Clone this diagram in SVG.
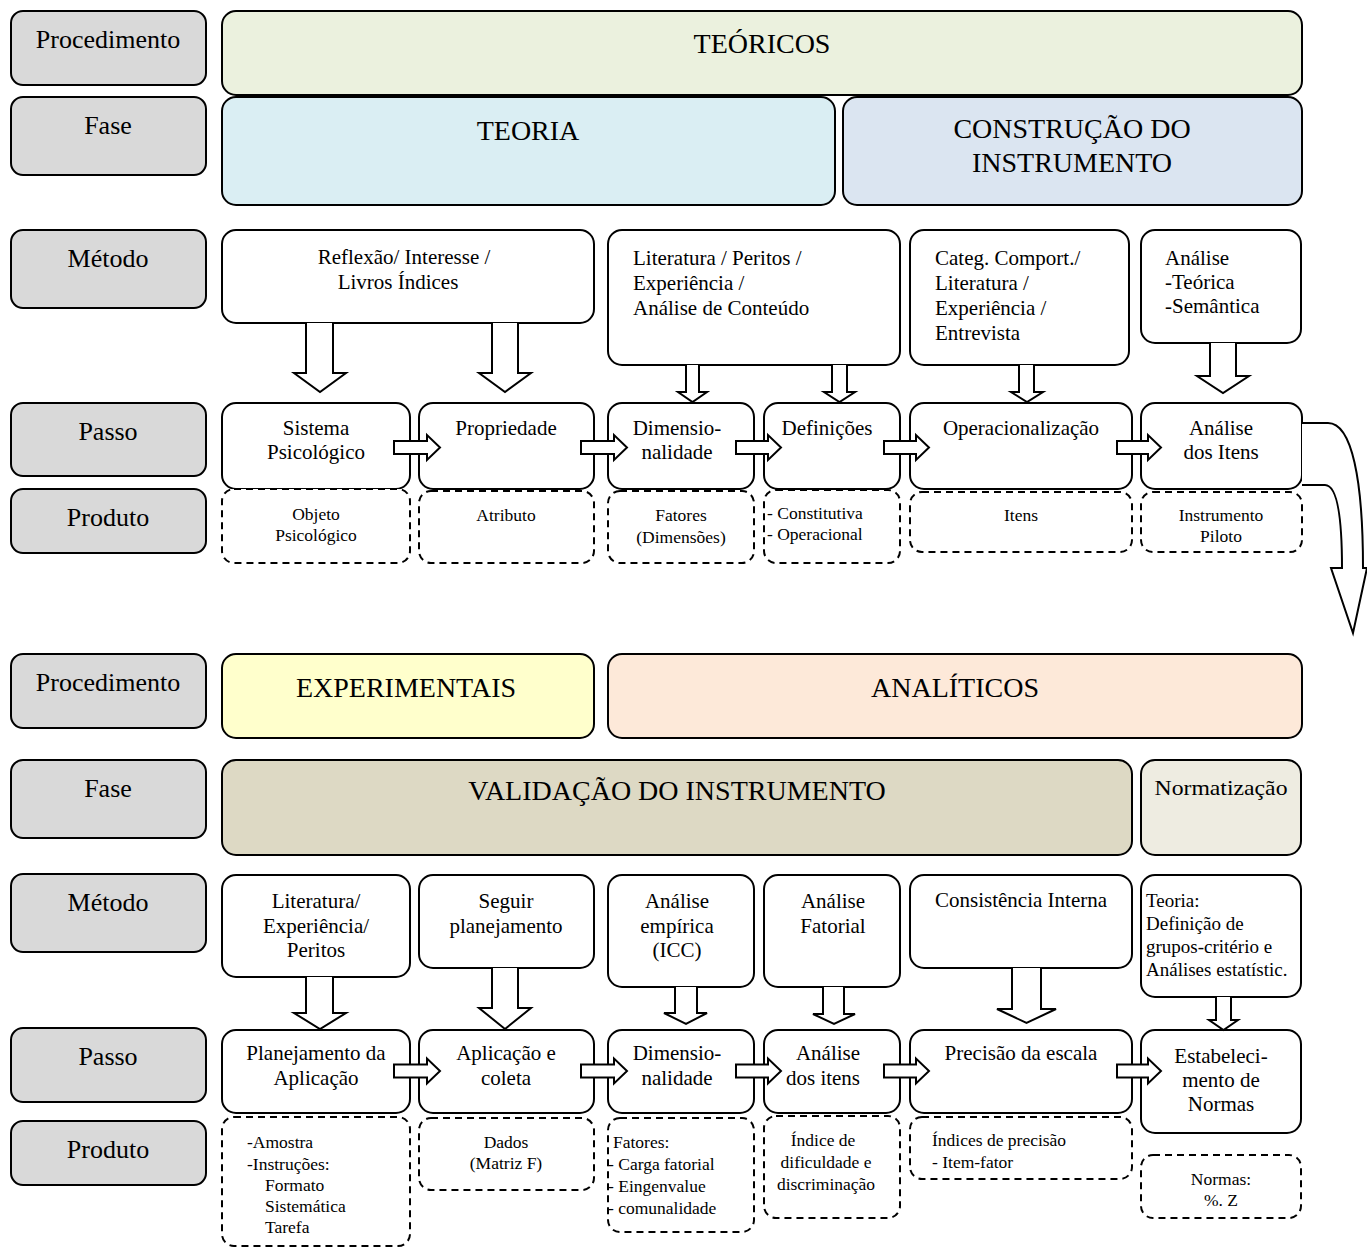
<svg xmlns="http://www.w3.org/2000/svg" width="1367" height="1247" viewBox="0 0 1367 1247">
<style>
text{font-family:"Liberation Serif","Times New Roman",serif;fill:#000}
.lbl rect{fill:#d9d9d9;stroke:#000;stroke-width:2}
.lbl text{font-size:26px;text-anchor:middle}
.box rect{fill:#fff;stroke:#000;stroke-width:2}
.dash rect{fill:#fff;stroke:#000;stroke-width:2;stroke-dasharray:7 5}
.big{font-size:28px;text-anchor:middle}
.t21{font-size:21px}
.t17{font-size:17.5px}
.c{text-anchor:middle}
.arr path{fill:#fff;stroke:#000;stroke-width:2;stroke-linejoin:miter}
</style>
<rect width="1367" height="1247" fill="#fff"/>

<!-- label column -->
<g id="lbl-proc1" class="lbl"><rect x="11" y="11" width="195" height="74" rx="12"/><text x="108" y="48">Procedimento</text></g>
<g id="lbl-fase1" class="lbl"><rect x="11" y="97" width="195" height="78" rx="12"/><text x="108" y="134">Fase</text></g>
<g id="lbl-met1" class="lbl"><rect x="11" y="230" width="195" height="78" rx="12"/><text x="108" y="267">Método</text></g>
<g id="lbl-passo1" class="lbl"><rect x="11" y="403" width="195" height="73" rx="12"/><text x="108" y="440">Passo</text></g>
<g id="lbl-prod1" class="lbl"><rect x="11" y="489" width="195" height="64" rx="12"/><text x="108" y="526">Produto</text></g>

<g id="lbl-proc2" class="lbl"><rect x="11" y="654" width="195" height="74" rx="12"/><text x="108" y="691">Procedimento</text></g>
<g id="lbl-fase2" class="lbl"><rect x="11" y="760" width="195" height="78" rx="12"/><text x="108" y="797">Fase</text></g>
<g id="lbl-met2" class="lbl"><rect x="11" y="874" width="195" height="78" rx="12"/><text x="108" y="911">Método</text></g>
<g id="lbl-passo2" class="lbl"><rect x="11" y="1028" width="195" height="74" rx="12"/><text x="108" y="1065">Passo</text></g>
<g id="lbl-prod2" class="lbl"><rect x="11" y="1121" width="195" height="64" rx="12"/><text x="108" y="1158">Produto</text></g>

<!-- top procedure / phase -->
<g id="teoricos"><rect x="222" y="11" width="1080" height="84" rx="14" fill="#ebf1de" stroke="#000" stroke-width="2"/><text class="big" x="762" y="53">TEÓRICOS</text></g>
<g id="teoria"><rect x="222" y="97" width="613" height="108" rx="14" fill="#daeef3" stroke="#000" stroke-width="2"/><text class="big" x="528" y="140">TEORIA</text></g>
<g id="construcao"><rect x="843" y="97" width="459" height="108" rx="14" fill="#dbe5f1" stroke="#000" stroke-width="2"/><text class="big" x="1072" y="138">CONSTRUÇÃO DO</text><text class="big" x="1072" y="172">INSTRUMENTO</text></g>

<!-- top methods -->
<g id="m1" class="box"><rect x="222" y="230" width="372" height="93" rx="14"/><text class="t21 c" x="404" y="264">Reflexão/ Interesse /</text><text class="t21 c" x="398" y="289">Livros Índices</text></g>
<g id="m2" class="box"><rect x="608" y="230" width="292" height="135" rx="14"/><text class="t21" x="633" y="265">Literatura / Peritos /</text><text class="t21" x="633" y="290">Experiência /</text><text class="t21" x="633" y="315">Análise de Conteúdo</text></g>
<g id="m3" class="box"><rect x="910" y="230" width="219" height="135" rx="14"/><text class="t21" x="935" y="265">Categ. Comport./</text><text class="t21" x="935" y="290">Literatura /</text><text class="t21" x="935" y="315">Experiência /</text><text class="t21" x="935" y="340">Entrevista</text></g>
<g id="m4" class="box"><rect x="1141" y="230" width="160" height="113" rx="14"/><text class="t21" x="1165" y="265">Análise</text><text class="t21" x="1165" y="289">-Teórica</text><text class="t21" x="1165" y="313">-Semântica</text></g>

<!-- top steps -->
<g id="p1" class="box"><rect x="222" y="403" width="188" height="86" rx="14"/><text class="t21 c" x="316" y="435">Sistema</text><text class="t21 c" x="316" y="459">Psicológico</text></g>
<g id="p2" class="box"><rect x="419" y="403" width="175" height="86" rx="14"/><text class="t21 c" x="506" y="435">Propriedade</text></g>
<g id="p3" class="box"><rect x="608" y="403" width="146" height="86" rx="14"/><text class="t21 c" x="677" y="435">Dimensio-</text><text class="t21 c" x="677" y="459">nalidade</text></g>
<g id="p4" class="box"><rect x="764" y="403" width="136" height="86" rx="14"/><text class="t21 c" x="827" y="435">Definições</text></g>
<g id="p5" class="box"><rect x="910" y="403" width="222" height="86" rx="14"/><text class="t21 c" x="1021" y="435">Operacionalização</text></g>
<g id="p6" class="box"><rect x="1141" y="403" width="161" height="86" rx="14"/><text class="t21 c" x="1221" y="435">Análise</text><text class="t21 c" x="1221" y="459">dos Itens</text></g>

<!-- top products -->
<g id="r1" class="dash"><rect x="222" y="489" width="188" height="74" rx="12"/><text class="t17 c" x="316" y="520">Objeto</text><text class="t17 c" x="316" y="541">Psicológico</text></g>
<g id="r2" class="dash"><rect x="419" y="491" width="175" height="72" rx="12"/><text class="t17 c" x="506" y="521">Atributo</text></g>
<g id="r3" class="dash"><rect x="608" y="491" width="146" height="72" rx="12"/><text class="t17 c" x="681" y="521">Fatores</text><text class="t17 c" x="681" y="543">(Dimensões)</text></g>
<g id="r4" class="dash"><rect x="764" y="490" width="136" height="73" rx="12"/><text class="t17" x="767" y="519">- Constitutiva</text><text class="t17" x="767" y="540">- Operacional</text></g>
<g id="r5" class="dash"><rect x="910" y="492" width="222" height="60" rx="12"/><text class="t17 c" x="1021" y="521">Itens</text></g>
<g id="r6" class="dash"><rect x="1141" y="492" width="161" height="60" rx="12"/><text class="t17 c" x="1221" y="521">Instrumento</text><text class="t17 c" x="1221" y="542">Piloto</text></g>

<!-- bottom procedure / phase -->
<g id="experimentais"><rect x="222" y="654" width="372" height="84" rx="14" fill="#ffffcc" stroke="#000" stroke-width="2"/><text class="big" x="406" y="697">EXPERIMENTAIS</text></g>
<g id="analiticos"><rect x="608" y="654" width="694" height="84" rx="14" fill="#fde9d9" stroke="#000" stroke-width="2"/><text class="big" x="955" y="697">ANALÍTICOS</text></g>
<g id="validacao"><rect x="222" y="760" width="910" height="95" rx="14" fill="#ddd9c4" stroke="#000" stroke-width="2"/><text class="big" x="677" y="800">VALIDAÇÃO DO INSTRUMENTO</text></g>
<g id="normatizacao"><rect x="1141" y="760" width="160" height="95" rx="14" fill="#eeece1" stroke="#000" stroke-width="2"/><text class="t21 c" x="1221" y="795" textLength="133" lengthAdjust="spacingAndGlyphs">Normatização</text></g>

<!-- bottom methods -->
<g id="bm1" class="box"><rect x="222" y="875" width="188" height="102" rx="14"/><text class="t21 c" x="316" y="908">Literatura/</text><text class="t21 c" x="316" y="933">Experiência/</text><text class="t21 c" x="316" y="957">Peritos</text></g>
<g id="bm2" class="box"><rect x="419" y="875" width="175" height="93" rx="14"/><text class="t21 c" x="506" y="908">Seguir</text><text class="t21 c" x="506" y="933">planejamento</text></g>
<g id="bm3" class="box"><rect x="608" y="875" width="146" height="112" rx="14"/><text class="t21 c" x="677" y="908">Análise</text><text class="t21 c" x="677" y="933">empírica</text><text class="t21 c" x="677" y="957">(ICC)</text></g>
<g id="bm4" class="box"><rect x="764" y="875" width="136" height="112" rx="14"/><text class="t21 c" x="833" y="908">Análise</text><text class="t21 c" x="833" y="933">Fatorial</text></g>
<g id="bm5" class="box"><rect x="910" y="875" width="222" height="93" rx="14"/><text class="t21 c" x="1021" y="907">Consistência Interna</text></g>
<g id="bm6" class="box"><rect x="1141" y="875" width="160" height="122" rx="14"/><text x="1146" y="907" font-size="19">Teoria:</text><text x="1146" y="930" font-size="19">Definição de</text><text x="1146" y="953" font-size="19">grupos-critério e</text><text x="1146" y="976" font-size="19">Análises estatístic.</text></g>

<!-- bottom steps -->
<g id="bp1" class="box"><rect x="222" y="1030" width="188" height="83" rx="14"/><text class="t21 c" x="316" y="1060">Planejamento da</text><text class="t21 c" x="316" y="1085">Aplicação</text></g>
<g id="bp2" class="box"><rect x="419" y="1030" width="175" height="83" rx="14"/><text class="t21 c" x="506" y="1060">Aplicação e</text><text class="t21 c" x="506" y="1085">coleta</text></g>
<g id="bp3" class="box"><rect x="608" y="1030" width="146" height="83" rx="14"/><text class="t21 c" x="677" y="1060">Dimensio-</text><text class="t21 c" x="677" y="1085">nalidade</text></g>
<g id="bp4" class="box"><rect x="764" y="1030" width="136" height="83" rx="14"/><text class="t21 c" x="828" y="1060">Análise</text><text class="t21 c" x="823" y="1085">dos itens</text></g>
<g id="bp5" class="box"><rect x="910" y="1030" width="222" height="83" rx="14"/><text class="t21 c" x="1021" y="1060">Precisão da escala</text></g>
<g id="bp6" class="box"><rect x="1141" y="1030" width="160" height="103" rx="14"/><text class="t21 c" x="1221" y="1063">Estabeleci-</text><text class="t21 c" x="1221" y="1087">mento de</text><text class="t21 c" x="1221" y="1111">Normas</text></g>

<!-- bottom products -->
<g id="br1" class="dash"><rect x="222" y="1117" width="188" height="129" rx="12"/><text class="t17" x="247" y="1148">-Amostra</text><text class="t17" x="247" y="1170">-Instruções:</text><text class="t17" x="265" y="1191">Formato</text><text class="t17" x="265" y="1212">Sistemática</text><text class="t17" x="265" y="1233">Tarefa</text></g>
<g id="br2" class="dash"><rect x="419" y="1118" width="175" height="72" rx="12"/><text class="t17 c" x="506" y="1148">Dados</text><text class="t17 c" x="506" y="1169">(Matriz F)</text></g>
<g id="br3" class="dash"><rect x="608" y="1118" width="146" height="114" rx="12"/><text class="t17" x="613" y="1148">Fatores:</text><text class="t17" x="608" y="1170">- Carga fatorial</text><text class="t17" x="608" y="1192">- Eingenvalue</text><text class="t17" x="608" y="1214">- comunalidade</text></g>
<g id="br4" class="dash"><rect x="764" y="1116" width="136" height="102" rx="12"/><text class="t17 c" x="823" y="1146">Índice de</text><text class="t17 c" x="826" y="1168">dificuldade e</text><text class="t17 c" x="826" y="1190">discriminação</text></g>
<g id="br5" class="dash"><rect x="910" y="1117" width="222" height="62" rx="12"/><text class="t17" x="932" y="1146">Índices de precisão</text><text class="t17" x="932" y="1168">- Item-fator</text></g>
<g id="br6" class="dash"><rect x="1141" y="1155" width="160" height="63" rx="12"/><text class="t17 c" x="1221" y="1185">Normas:</text><text class="t17 c" x="1221" y="1206">%. Z</text></g>

<!-- connectors -->
<g id="connectors" class="arr">
<path d="M306,323 L306,373 L294,373 L320,392 L346,373 L333,373 L333,323"/>
<path d="M492,323 L492,373 L479,373 L505,392 L531,373 L518,373 L518,323"/>
<path d="M686,365 L686,392 L678,392 L692.5,402 L707,392 L699,392 L699,365"/>
<path d="M832,365 L832,392 L824,392 L839.5,402 L855,392 L847,392 L847,365"/>
<path d="M1019,365 L1019,392 L1011,392 L1027,402 L1043,392 L1034,392 L1034,365"/>
<path d="M1210,343 L1210,376 L1197,376 L1223,393 L1249,376 L1236,376 L1236,343"/>

<path d="M394,441 L427,441 L427,435 L440,447.5 L427,460 L427,454 L394,454 Z"/>
<path d="M581,441 L614,441 L614,435 L627,447.5 L614,460 L614,454 L581,454 Z"/>
<path d="M736,441 L768,441 L768,435 L781,447.5 L768,460 L768,454 L736,454 Z"/>
<path d="M884,441 L916,441 L916,435 L929,447.5 L916,460 L916,454 L884,454 Z"/>
<path d="M1117,441 L1148,441 L1148,435 L1161,447.5 L1148,460 L1148,454 L1117,454 Z"/>

<path d="M1302,423 L1328,423 C1352,423 1363,480 1363,568 L1367,568 L1353,633 L1331,568 L1342,568 C1342,515 1337,485 1325,485 L1302,485"/>

<path d="M306,977 L306,1013 L294,1013 L320,1029 L346,1013 L333,1013 L333,977"/>
<path d="M492,968 L492,1008 L479,1008 L505,1029 L531,1008 L518,1008 L518,968"/>
<path d="M675,987 L675,1013 L664,1013 L686,1024 L707,1013 L697,1013 L697,987"/>
<path d="M823,987 L823,1014 L813,1014 L834,1024 L855,1014 L844,1014 L844,987"/>
<path d="M1012,968 L1012,1009 L997,1009 L1026.5,1023 L1056,1009 L1041,1009 L1041,968"/>
<path d="M1216,997 L1216,1020 L1209,1020 L1223.5,1030 L1238,1020 L1231,1020 L1231,997"/>

<path d="M394,1064.5 L427,1064.5 L427,1058.5 L440,1071 L427,1083.5 L427,1077.5 L394,1077.5 Z"/>
<path d="M581,1064.5 L614,1064.5 L614,1058.5 L627,1071 L614,1083.5 L614,1077.5 L581,1077.5 Z"/>
<path d="M736,1064.5 L768,1064.5 L768,1058.5 L781,1071 L768,1083.5 L768,1077.5 L736,1077.5 Z"/>
<path d="M884,1064.5 L916,1064.5 L916,1058.5 L929,1071 L916,1083.5 L916,1077.5 L884,1077.5 Z"/>
<path d="M1117,1064.5 L1148,1064.5 L1148,1058.5 L1161,1071 L1148,1083.5 L1148,1077.5 L1117,1077.5 Z"/>
</g>
</svg>
